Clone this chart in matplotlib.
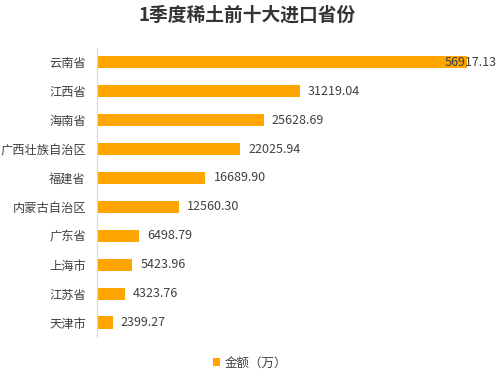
import matplotlib
matplotlib.use("Agg")
import matplotlib.pyplot as plt

plt.rcParams['font.family'] = ['Noto Sans CJK SC', 'DejaVu Sans']

provinces = ['云南省', '江西省', '海南省', '广西壮族自治区', '福建省',
             '内蒙古自治区', '广东省', '上海市', '江苏省', '天津市']
amounts = [56917.13, 31219.04, 25628.69, 22025.94, 16689.90,
           12560.30, 6498.79, 5423.96, 4323.76, 2399.27]

fig = plt.figure(figsize=(5, 3.81), dpi=100)
ax = fig.add_axes([0.194, 0.1155, 0.78, 0.759])

bars = ax.barh(provinces, amounts, height=0.42, color='#FFA500', label='金额（万）')
ax.set_xlim(0, 60000)
ax.set_ylim(9.5, -0.5)

# value labels
for i, v in enumerate(amounts):
    if i == 0:
        ax.annotate(f'{v:.2f}', (v, i), xytext=(-22, 0), textcoords='offset pixels',
                    va='center', ha='left', fontsize=9, color='#404040', annotation_clip=False)
    else:
        ax.annotate(f'{v:.2f}', (v, i), xytext=(8, 0), textcoords='offset pixels',
                    va='center', ha='left', fontsize=9, color='#404040')

for s in ['top', 'right', 'bottom']:
    ax.spines[s].set_visible(False)
ax.spines['left'].set_color('#d9d9d9')
ax.set_xticks([])
ax.tick_params(axis='y', length=0, pad=8, labelsize=8.8, labelcolor='#404040')

fig.suptitle('1季度稀土前十大进口省份', x=0.495, y=0.985, fontsize=13.5,
             fontweight='bold', color='#333333')

fig.legend(loc='lower center', bbox_to_anchor=(0.5, 0.0), frameon=False,
           fontsize=9, handlelength=0.6, handleheight=0.6, handletextpad=0.4,
           labelcolor='#404040')

fig.savefig('out.png', dpi=100)
